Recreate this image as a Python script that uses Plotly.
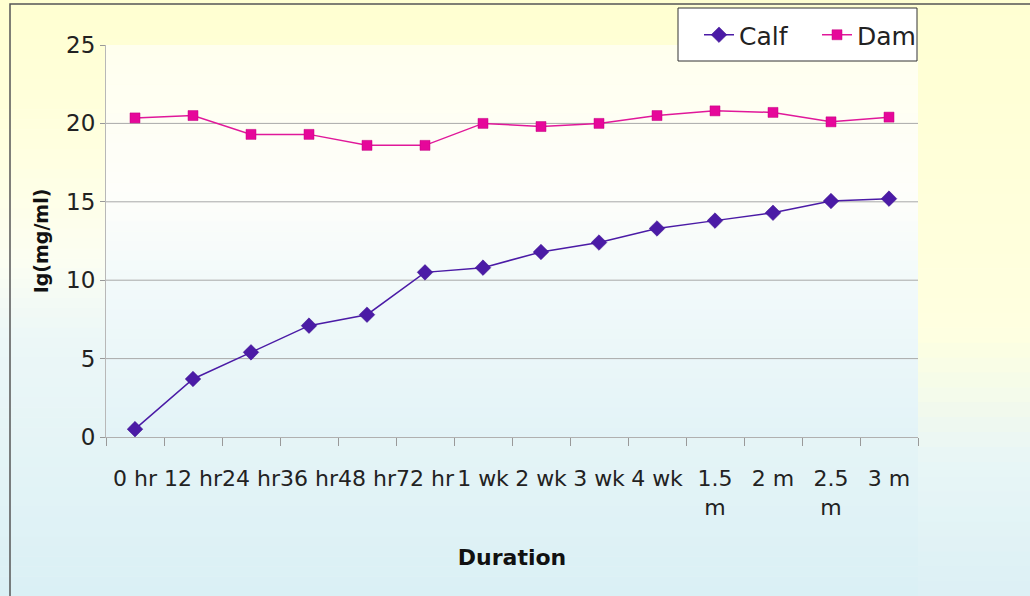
import plotly.graph_objects as go

durations = ["0 hr", "12 hr", "24 hr", "36 hr", "48 hr", "72 hr", "1 wk", "2 wk",
             "3 wk", "4 wk", "1.5<br>m", "2 m", "2.5<br>m", "3 m"]
calf = [0.5, 3.7, 5.4, 7.1, 7.8, 10.5, 10.8, 11.8, 12.4, 13.3, 13.8, 14.3, 15.05, 15.2]
dam = [20.35, 20.5, 19.3, 19.3, 18.6, 18.6, 20.0, 19.8, 20.0, 20.5, 20.8, 20.7, 20.1, 20.4]
y_ticks = [0, 5, 10, 15, 20, 25]
grid_values = [5, 10, 15, 20]

W, H = 1030, 596
L, R, T, B = 106, 918, 45, 437  # plot area in pixels


def px2x(px):
    return (px - L) / (R - L)


def px2y(py):
    return (B - py) / (B - T)


def interp(stops, y):
    for (y0, c0), (y1, c1) in zip(stops, stops[1:]):
        if y0 <= y <= y1:
            t = (y - y0) / (y1 - y0) if y1 > y0 else 0
            return tuple(round(a + (b - a) * t) for a, b in zip(c0, c1))
    return stops[-1][1] if y > stops[-1][0] else stops[0][1]


shapes = []


def band_region(x0, x1, y0, y1, stops, n):
    step = (y1 - y0) / n
    for i in range(n):
        ya = y0 + i * step
        yb = ya + step + 0.6
        c = interp(stops, ya + step / 2)
        shapes.append(dict(type="rect", xref="paper", yref="paper",
                           x0=px2x(x0), x1=px2x(x1), y0=px2y(yb), y1=px2y(ya),
                           fillcolor="rgb(%d,%d,%d)" % c, line=dict(width=0),
                           layer="below"))


outer_stops = [(0, (255, 255, 208)), (150, (255, 255, 224)), (260, (252, 254, 242)),
               (340, (236, 247, 247)), (596, (218, 240, 245))]
band_region(0, W, 0, H, outer_stops, 60)
right_stops = [(0, (255, 255, 210)), (330, (255, 255, 224)), (460, (232, 246, 246)),
               (596, (220, 240, 245))]
band_region(R, W, 0, H, right_stops, 40)
plot_stops = [(T, (255, 255, 238)), (190, (254, 254, 250)), (300, (240, 249, 250)),
              (B, (226, 243, 247))]
band_region(L, R, T, B, plot_stops, 40)

for g in grid_values:
    shapes.append(dict(type="line", xref="paper", yref="y", x0=0, x1=1, y0=g, y1=g,
                       line=dict(color="#A9A9A9", width=1), layer="below"))

# legend box
shapes.append(dict(type="rect", xref="paper", yref="paper",
                   x0=px2x(678), x1=px2x(917), y0=px2y(61), y1=px2y(8),
                   line=dict(color="#333333", width=1), fillcolor="white", layer="below"))

# outer frame
shapes.append(dict(type="rect", xref="paper", yref="paper",
                   x0=px2x(10), x1=px2x(1045), y0=px2y(605), y1=px2y(4),
                   line=dict(color="#555555", width=1.5), fillcolor="rgba(0,0,0,0)"))

fig = go.Figure()
fig.add_trace(go.Scatter(
    x=durations, y=calf, name="Calf", mode="lines+markers",
    line=dict(color="#4B1BA6", width=1.5),
    marker=dict(symbol="diamond", size=12, color="#4B1BA6",
                line=dict(color="#3A0E8C", width=0.5))))
fig.add_trace(go.Scatter(
    x=durations, y=dam, name="Dam", mode="lines+markers",
    line=dict(color="#E0189A", width=1.5),
    marker=dict(symbol="square", size=10, color="#E6079A",
                line=dict(color="#C0007E", width=0.5))))

font_family = "Century Gothic, DejaVu Sans, sans-serif"

fig.update_layout(
    width=W, height=H,
    margin=dict(l=L, r=W - R, t=T, b=H - B, autoexpand=False),
    paper_bgcolor="rgba(0,0,0,0)", plot_bgcolor="rgba(0,0,0,0)",
    shapes=shapes,
    font=dict(family=font_family, color="#222222"),
    showlegend=True,
    legend=dict(orientation="h", x=px2x(699), y=px2y(12), xanchor="left", yanchor="top",
                bgcolor="rgba(0,0,0,0)", borderwidth=0,
                font=dict(size=25, family=font_family, color="#222222"),
                entrywidth=73, entrywidthmode="pixels"),
    xaxis=dict(
        type="category", tickangle=0, tickson="boundaries",
        ticks="outside", ticklen=8, tickcolor="#999999",
        showline=True, linecolor="#B0B0B0", linewidth=1, showgrid=False,
        tickfont=dict(size=22, family=font_family, color="#222222"),
        ticklabelstandoff=22,
        title=dict(text="<b>Duration</b>", font=dict(size=22, family=font_family,
                                                       color="#111111"), standoff=30),
        range=[-0.5, len(durations) - 0.5],
    ),
    yaxis=dict(
        range=[0, 25], tickvals=y_ticks, showgrid=False, zeroline=False,
        ticks="outside", ticklen=5, tickcolor="#999999",
        showline=True, linecolor="#B8B8B8", linewidth=1,
        tickfont=dict(size=23, family=font_family, color="#222222"),
        title=dict(text="<b>Ig(mg/ml)</b>", font=dict(size=19, family=font_family,
                                                       color="#111111"), standoff=12),
    ),
)

fig.write_html("out.html")
